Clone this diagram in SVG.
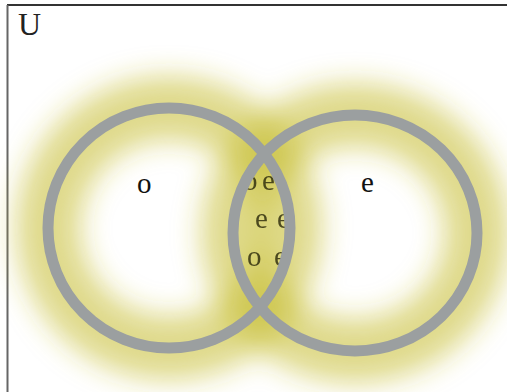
<svg xmlns="http://www.w3.org/2000/svg" width="507" height="392" viewBox="0 0 507 392">
<defs>
<filter id="blur" x="-50%" y="-50%" width="200%" height="200%">
<feGaussianBlur stdDeviation="14"/>
</filter>
<style>
.glow{fill:none;stroke:#c4bb28;stroke-width:64;opacity:0.54}
.ring{fill:none;stroke:#9b9fa0;stroke-width:11}
.lbl{font-family:"Liberation Serif",serif;font-size:29px;fill:#111}
.mid{font-family:"Liberation Serif",serif;font-size:29px;fill:#33310f;opacity:0.85}
</style>
</defs>
<rect x="0" y="0" width="507" height="392" fill="#fff"/>
<g id="frame">
<line x1="7" y1="5" x2="507" y2="5" stroke="#333" stroke-width="2"/>
<line x1="7.5" y1="5" x2="7.5" y2="392" stroke="#666" stroke-width="2"/>
</g>
<g id="glows" filter="url(#blur)">
<ellipse class="glow" cx="169" cy="228" rx="121" ry="120"/>
<ellipse class="glow" cx="355" cy="233" rx="122" ry="118"/>
</g>
<g id="intersection-texts">
<text class="mid" x="243" y="190">o</text>
<text class="mid" x="262" y="190">e</text>
<text class="mid" x="255" y="228">e</text>
<text class="mid" x="277" y="228">e</text>
<text class="mid" x="247" y="266">o</text>
<text class="mid" x="274" y="266">e</text>
</g>
<g id="set-o">
<ellipse class="ring" cx="169" cy="228" rx="121" ry="120"/>
<text class="lbl" x="137" y="193">o</text>
</g>
<g id="set-e">
<ellipse class="ring" cx="355" cy="233" rx="122" ry="118"/>
<text class="lbl" x="361" y="192">e</text>
</g>
<g id="universe">
<text x="18" y="35" font-family="Liberation Serif, serif" font-size="32" fill="#222">U</text>
</g>
</svg>
